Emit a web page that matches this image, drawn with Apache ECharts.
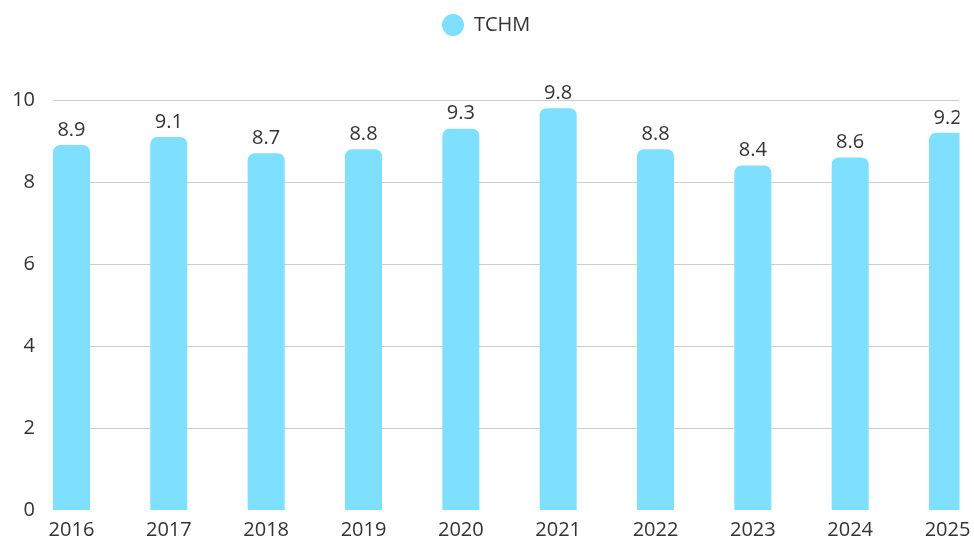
<!DOCTYPE html>
<html>
<head>
<meta charset="utf-8">
<script src="https://cdn.jsdelivr.net/npm/echarts@6/dist/echarts.min.js"></script>
<style>
  html, body { margin: 0; padding: 0; background: #fff; }
  #chart { width: 974px; height: 542px; }
</style>
</head>
<body>
<div id="chart"></div>
<script>
const years = [2016, 2017, 2018, 2019, 2020, 2021, 2022, 2023, 2024, 2025]
const tchm = [8.9, 9.1, 8.7, 8.8, 9.3, 9.8, 8.8, 8.4, 8.6, 9.2]
const yTicks = [0, 2, 4, 6, 8, 10]

const barColor = '#7fdfff'
const font = 'Open Sans'
const gridRight = 15

const chart = echarts.init(document.getElementById('chart'))
chart.setOption({
  backgroundColor: '#ffffff',
  animation: false,
  legend: {
    data: ['TCHM'],
    left: 437,
    top: 9,
    icon: 'circle',
    itemWidth: 22,
    itemHeight: 22,
    textStyle: { fontFamily: font, fontSize: 20, color: '#333', padding: [0, 0, 0, 5] }
  },
  grid: { left: 53, right: gridRight, top: 100, bottom: 32 },
  xAxis: {
    type: 'value',
    // axis is a bit wider on the left than on the right, the last bar gets cut
    min: 2015.81,
    max: 2025.118,
    axisLine: { show: false },
    axisTick: { show: false },
    splitLine: { show: false },
    axisLabel: {
      customValues: years,
      margin: 10,
      fontFamily: font,
      fontSize: 20,
      color: '#333',
      formatter: v => String(Math.round(v))
    }
  },
  yAxis: {
    type: 'value',
    min: yTicks[0],
    max: yTicks[yTicks.length - 1],
    interval: 2,
    axisLine: { show: false },
    axisTick: { show: false },
    axisLabel: { margin: 18, fontFamily: font, fontSize: 20, color: '#333' },
    splitLine: { showMinLine: false, lineStyle: { color: '#cccccc', width: 1 } }
  },
  // the plot is cut off at the right edge of the grid
  graphic: [{
    type: 'rect',
    z: 100,
    silent: true,
    shape: { x: 974 - gridRight + 0.5, y: 80, width: 30, height: 431 },
    style: { fill: '#ffffff' }
  }],
  series: [{
    name: 'TCHM',
    type: 'bar',
    barWidth: 37,
    itemStyle: { color: barColor, borderRadius: [7, 7, 0, 0] },
    label: {
      show: true,
      position: 'top',
      distance: 5,
      fontFamily: font,
      fontSize: 20,
      color: '#333'
    },
    data: years.map((y, i) => [y, tchm[i]])
  }]
})
</script>
</body>
</html>
